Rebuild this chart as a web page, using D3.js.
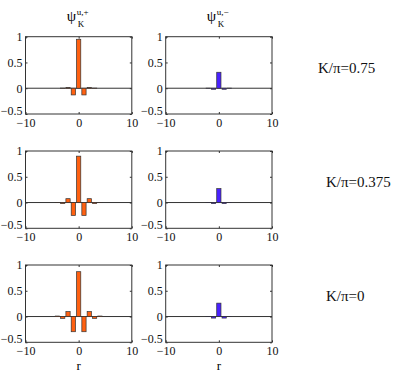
<!DOCTYPE html>
<html>
<head>
<meta charset="utf-8">
<script src="https://cdn.jsdelivr.net/npm/d3@7"></script>
<style>
  body { margin: 0; background: #fff; }
</style>
</head>
<body>
<div class="canvas"></div>
<script>
// bar positions (r) and values, one array per panel
const rPos = [-4, -3, -2, -1, 0, 1, 2, 3, 4];
const plus075 = [0, 0.003, 0.012, -0.13, 0.95, -0.13, 0.012, 0.003, 0];
const minus075 = [0, 0, 0.002, -0.02, 0.31, -0.02, 0.002, 0, 0];
const plus0375 = [0.003, -0.02, 0.075, -0.25, 0.9, -0.25, 0.075, -0.02, 0.003];
const minus0375 = [0, 0, 0.003, -0.02, 0.27, -0.02, 0.003, 0, 0];
const plus0 = [0.01, -0.035, 0.095, -0.295, 0.87, -0.295, 0.095, -0.035, 0.01];
const minus0 = [0, 0, 0.003, -0.03, 0.26, -0.03, 0.003, 0, 0];

const rowLabels = ["K/π=0.75", "K/π=0.375", "K/π=0"];
const xTicks = [-10, 0, 10];
const yTicks = [-0.5, 0, 0.5, 1];

const rows = [
  [plus075, minus075],
  [plus0375, minus0375],
  [plus0, minus0],
];

const FONT = "'Liberation Serif', 'Times New Roman', Times, serif";
const colLeft = [25.5, 165.7];
const rowTop = [36.7, 151, 265];
const pw = 106.3, ph = 77.3;
const labelX = [318, 326, 326];
const fills = ["#ff6010", "#4a22ff"];

const svg = d3.select(".canvas").append("svg").attr("width", 395).attr("height", 375);

const x = d3.scaleLinear().domain([-10, 10]).range([0, pw]);
const y = d3.scaleLinear().domain([-0.5, 1]).range([ph, 0]);
const fmt = (d) => String(d).replace("-", "\u2212");
const barW = x(0.8) - x(0);

rows.forEach((pair, ri) => {
  pair.forEach((vals, ci) => {
    const g = svg.append("g").attr("transform", `translate(${colLeft[ci]},${rowTop[ri]})`);

    // baseline
    g.append("line")
      .attr("x1", 0).attr("x2", pw)
      .attr("y1", y(0)).attr("y2", y(0))
      .attr("stroke", "#333").attr("stroke-width", 1);

    g.selectAll("rect.bar")
      .data(vals.map((v, i) => ({ r: rPos[i], v: v })))
      .enter()
      .append("rect")
      .attr("class", "bar")
      .attr("x", (d) => x(d.r) - barW / 2)
      .attr("width", barW)
      .attr("y", (d) => y(Math.max(0, d.v)))
      .attr("height", (d) => Math.abs(y(d.v) - y(0)))
      .attr("fill", fills[ci])
      .attr("stroke", "#333")
      .attr("stroke-width", 0.7);

    // axes, ticks pointing inward like matlab
    const ax = g.append("g");
    const yl = ax.append("g").call(d3.axisLeft(y).tickValues(yTicks).tickSize(-2).tickPadding(3).tickFormat(fmt));
    ax.append("g").attr("transform", `translate(${pw},0)`)
      .call(d3.axisRight(y).tickValues(yTicks).tickSize(-2).tickFormat(""));
    const xl = ax.append("g").attr("transform", `translate(0,${ph})`)
      .call(d3.axisBottom(x).tickValues(xTicks).tickSize(-2).tickPadding(3).tickFormat(fmt));
    ax.append("g").call(d3.axisTop(x).tickValues(xTicks).tickSize(-2).tickFormat(""));
    ax.selectAll(".domain").remove();
    ax.selectAll("line").attr("stroke", "#333");
    ax.selectAll("text")
      .attr("font-family", FONT)
      .attr("font-size", 12)
      .attr("fill", "#111");
    // lowest y label sits a bit higher, as in matlab output
    yl.selectAll(".tick text").filter((d) => d === -0.5).attr("dy", "0.05em");
    xl.selectAll(".tick text").attr("dy", "0.8em");

    g.append("rect")
      .attr("width", pw).attr("height", ph)
      .attr("fill", "none").attr("stroke", "#333").attr("stroke-width", 1);

    // column titles
    if (ri === 0) {
      g.append("text").attr("x", pw / 2 - 12).attr("y", -16)
        .attr("font-family", FONT).attr("font-size", 15).text("ψ");
      g.append("text").attr("x", pw / 2 - 2).attr("y", -22)
        .attr("font-family", FONT).attr("font-size", 9)
        .text(ci === 0 ? "u,+" : "u,\u2212");
      g.append("text").attr("x", pw / 2 - 1).attr("y", -10)
        .attr("font-family", FONT).attr("font-size", 9).text("K");
    }
    if (ri === 2) {
      g.append("text").attr("x", pw / 2).attr("y", ph + 28)
        .attr("text-anchor", "middle")
        .attr("font-family", FONT).attr("font-size", 13).text("r");
    }
  });

  svg.append("text")
    .attr("x", labelX[ri])
    .attr("y", rowTop[ri] + 36)
    .attr("font-family", FONT)
    .attr("font-size", 15)
    .attr("fill", "#111")
    .text(rowLabels[ri]);
});
</script>
</body>
</html>
